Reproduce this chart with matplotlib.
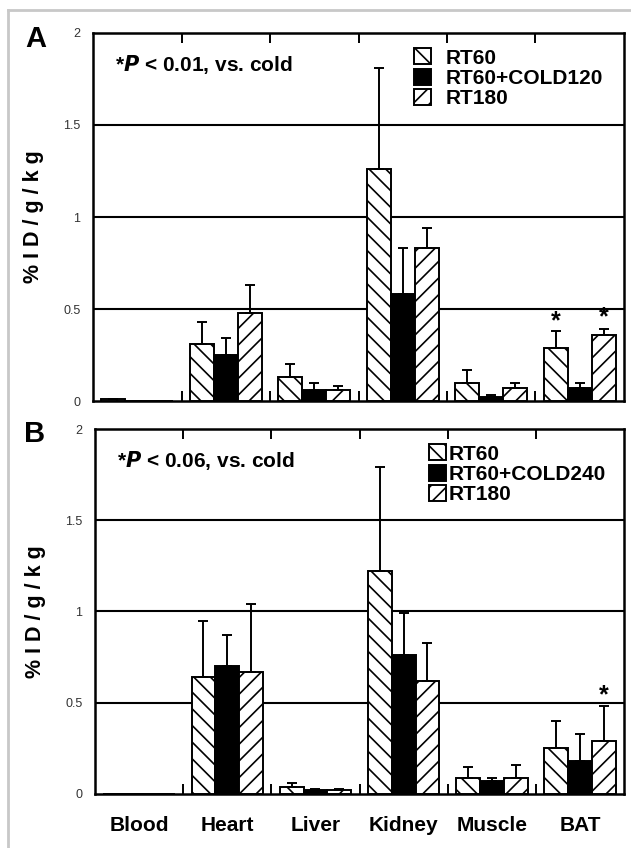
import numpy as np
import matplotlib
matplotlib.use('Agg')
import matplotlib.pyplot as plt
from matplotlib.lines import Line2D

plt.rcParams['font.family'] = ['Liberation Sans', 'DejaVu Sans']
plt.rcParams['hatch.linewidth'] = 1.2

organs = ["Blood", "Heart", "Liver", "Kidney", "Muscle", "BAT"]

# panel A
a_rt60 = [0.01, 0.31, 0.13, 1.26, 0.10, 0.29]
a_rt60_err = [0.0, 0.12, 0.07, 0.55, 0.07, 0.09]
a_cold = [0.0, 0.25, 0.06, 0.58, 0.02, 0.07]
a_cold_err = [0.0, 0.09, 0.04, 0.25, 0.01, 0.03]
a_rt180 = [0.0, 0.48, 0.06, 0.83, 0.07, 0.36]
a_rt180_err = [0.0, 0.15, 0.02, 0.11, 0.03, 0.03]
a_stars = [(5, 0, 0.435), (5, 2, 0.455)]  # (organ, series, y)

# panel B
b_rt60 = [0.0, 0.64, 0.04, 1.22, 0.09, 0.25]
b_rt60_err = [0.0, 0.31, 0.02, 0.57, 0.06, 0.15]
b_cold = [0.0, 0.70, 0.02, 0.76, 0.07, 0.18]
b_cold_err = [0.0, 0.17, 0.01, 0.23, 0.02, 0.15]
b_rt180 = [0.0, 0.67, 0.02, 0.62, 0.09, 0.29]
b_rt180_err = [0.0, 0.37, 0.01, 0.21, 0.07, 0.19]
b_stars = [(5, 2, 0.54)]


def draw_panel(ax, series, errs, labels, stars, note, leg_pos, leg_pad, show_names):
    x = np.arange(len(organs))
    w = 0.27
    hatches = ['\\\\', None, '//']
    colors = ['white', 'black', 'white']
    handles = []
    for k in range(3):
        pos = x + (k - 1) * w
        b = ax.bar(pos, series[k], w, color=colors[k], edgecolor='black',
                   hatch=hatches[k], linewidth=1.4, zorder=3, label=labels[k])
        ax.errorbar(pos, series[k], yerr=[np.zeros(len(organs)), errs[k]],
                    fmt='none', ecolor='black', elinewidth=1.4, capsize=3.5,
                    capthick=1.4, zorder=4)
        handles.append(b)
    for (i, k, yy) in stars:
        ax.text(i + (k - 1) * w, yy, '*', ha='center', va='center',
                fontsize=18, fontweight='bold', zorder=5)

    for yg in [0.5, 1.0, 1.5]:
        ax.axhline(yg, color='black', lw=1.5, zorder=1)

    ax.set_xlim(-0.5, len(organs) - 0.5)
    ax.set_ylim(0, 2)
    ax.set_yticks([0, 0.5, 1, 1.5, 2])
    ax.set_yticklabels(['0', '0.5', '1', '1.5', '2'])
    ax.tick_params(axis='y', length=0, pad=9, labelsize=9, labelcolor='#333333')
    ax.set_xticks(np.arange(len(organs) - 1) + 0.5)
    ax.set_xticklabels([])
    ax.tick_params(axis='x', which='major', direction='in', length=7, width=1.4,
                   top=True, bottom=True)
    if show_names:
        ax.set_xticks(x, minor=True)
        ax.set_xticklabels(organs, minor=True, fontsize=15, fontweight='bold')
        ax.tick_params(axis='x', which='minor', length=0, pad=16)
    for s in ax.spines.values():
        s.set_linewidth(1.8)

    ax.set_ylabel('% I D / g / k g', fontsize=15.5, fontweight='bold', labelpad=14)
    ax.text(0.041, 0.915, note, transform=ax.transAxes, fontsize=15,
            fontweight='bold', va='center', ha='left')
    ax.legend(handles=handles, loc='upper left', bbox_to_anchor=leg_pos,
              frameon=False, prop={'weight': 'bold', 'size': 15},
              handlelength=0.8, handleheight=0.8, handletextpad=leg_pad,
              labelspacing=0.05, borderpad=0, borderaxespad=0)


fig = plt.figure(figsize=(6.31, 8.48), dpi=100)
ax1 = fig.add_axes([0.1474, 0.5271, 0.8415, 0.434])
ax2 = fig.add_axes([0.1506, 0.0637, 0.8384, 0.4304])

draw_panel(ax1, [a_rt60, a_cold, a_rt180], [a_rt60_err, a_cold_err, a_rt180_err],
           ['RT60', 'RT60+COLD120', 'RT180'], a_stars,
           r'*$\boldsymbol{P}$ < 0.01, vs. cold', (0.605, 0.958), 0.7, False)
draw_panel(ax2, [b_rt60, b_cold, b_rt180], [b_rt60_err, b_cold_err, b_rt180_err],
           ['RT60', 'RT60+COLD240', 'RT180'], b_stars,
           r'*$\boldsymbol{P}$ < 0.06, vs. cold', (0.632, 0.958), 0.12, True)

fig.text(0.057, 0.954, 'A', fontsize=21, fontweight='bold', ha='center', va='center')
fig.text(0.054, 0.488, 'B', fontsize=21, fontweight='bold', ha='center', va='center')

# light outer frame (cut at right and bottom)
fig.add_artist(Line2D([8 / 631, 1.0], [1 - 10 / 848] * 2, color='#c8c8c8', lw=2))
fig.add_artist(Line2D([8 / 631] * 2, [0.0, 1 - 10 / 848], color='#c8c8c8', lw=2))

fig.savefig('out.png', dpi=100)
